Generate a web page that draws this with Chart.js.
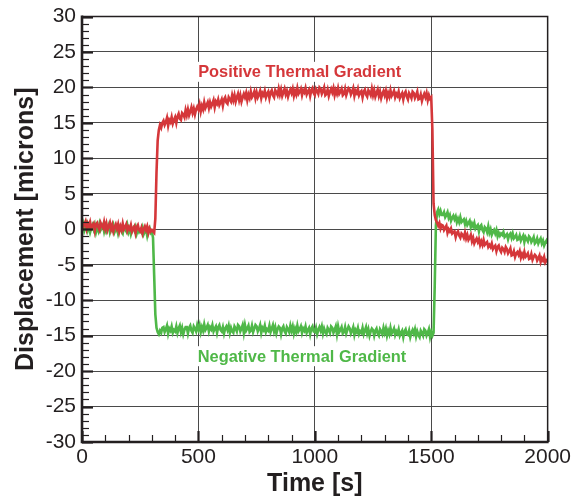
<!DOCTYPE html>
<html>
<head>
<meta charset="utf-8">
<script src="https://cdn.jsdelivr.net/npm/chart.js@4.4.1/dist/chart.umd.min.js"></script>
<style>
  html, body { margin: 0; padding: 0; background: #fff; }
  #wrap { width: 574px; height: 499px; }
</style>
</head>
<body>
<div id="wrap"><canvas id="dispChart" width="574" height="499"></canvas></div>
<script>
// sample grid in seconds (one reading every 5 s, 0 .. 2000)
var sampleStep = 5;
var sampleTimes = [];
for (var i = 0; i <= 400; i++) sampleTimes.push(i * sampleStep);

var seriesNames = ['Positive Thermal Gradient', 'Negative Thermal Gradient'];

// displacement [microns], 10 readings (50 s) per row
var positiveGradient = [
    1.0, 0.3, 0.7, 1.1, 0.1, 0.8, 0.4, 1.0, 0.2, 0.5,
    0.8, -0.2, 0.7, 0.9, 0.3, -0.1, 0.9, 0.5, 0.2, 1.0,
    0.1, 0.8, -0.1, 0.4, 0.9, 0.0, 0.6, -0.3, 0.3, 0.7,
    0.1, 0.7, -0.3, 0.4, -0.1, 0.8, 0.0, 0.3, 0.7, -0.2,
    0.3, 0.0, 0.6, -0.3, 0.1, 0.4, -0.5, 0.3, 0.6, -0.1,
    -0.3, 0.2, -0.6, 0.0, 0.4, -0.1, 0.4, -0.5, 0.1, -0.3,
    -0.1, -0.3, -0.5, 1.5, 8.0, 12.5, 14.0, 14.7, 14.3, 15.0,
    15.3, 14.7, 15.1, 15.7, 14.6, 15.4, 15.1, 15.8, 14.9, 15.4,
    15.8, 15.0, 15.9, 16.3, 15.6, 15.4, 16.4, 16.2, 15.8, 16.8,
    16.1, 16.9, 16.1, 16.6, 17.2, 16.4, 17.0, 16.2, 16.9, 17.3,
    16.9, 17.6, 16.6, 17.4, 16.9, 17.9, 17.1, 17.5, 17.9, 17.1,
    17.9, 17.3, 17.7, 18.2, 17.2, 18.0, 17.7, 18.3, 17.5, 17.9,
    18.3, 17.4, 18.3, 18.6, 17.9, 17.7, 18.6, 18.3, 18.0, 18.9,
    18.2, 18.9, 18.0, 18.6, 19.1, 18.2, 18.9, 18.0, 18.6, 19.1,
    18.6, 19.2, 18.2, 19.0, 18.5, 19.4, 18.6, 18.9, 19.4, 18.5,
    19.3, 18.6, 19.0, 19.5, 18.5, 19.2, 18.9, 19.5, 18.6, 19.1,
    19.4, 18.5, 19.3, 19.6, 18.9, 18.6, 19.6, 19.3, 18.9, 19.8,
    19.0, 19.7, 18.8, 19.3, 19.8, 19.0, 19.5, 18.7, 19.3, 19.7,
    19.2, 19.8, 18.8, 19.5, 19.0, 19.9, 19.1, 19.4, 19.8, 18.9,
    19.6, 19.3, 19.9, 19.0, 19.4, 19.7, 18.8, 19.6, 19.9, 19.2,
    18.9, 19.8, 19.5, 19.1, 20.0, 19.8, 19.1, 19.5, 20.0, 18.9,
    19.1, 19.7, 18.8, 19.4, 19.8, 19.3, 19.9, 18.9, 19.6, 19.1,
    19.9, 19.1, 19.4, 19.8, 18.9, 19.1, 19.8, 18.9, 19.4, 19.9,
    19.7, 19.0, 19.4, 19.9, 18.8, 19.5, 19.2, 19.8, 18.9, 19.3,
    19.5, 18.6, 19.4, 19.7, 19.0, 18.7, 19.6, 19.3, 18.9, 19.8,
    18.9, 19.6, 18.7, 19.2, 19.7, 18.8, 19.4, 18.5, 19.1, 19.5,
    18.9, 19.5, 18.5, 19.2, 18.7, 19.6, 18.8, 19.1, 19.5, 18.6,
    19.1, 18.8, 19.4, 18.5, 18.9, 19.2, 18.3, 19.1, 19.4, 18.7,
    18.3, 19.2, 18.9, 18.5, 19.4, 19.2, 18.5, 18.9, 19.4, 18.3,
    18.4, 19.0, 18.1, 18.7, 19.1, 18.6, 19.2, 18.2, 18.9, 18.4,
    18.6, 14.0, 3.6, 2.0, 1.3, 0.9, 0.5, 0.9, 0.1, 0.6,
    0.5, -0.1, 0.2, 0.5, -0.5, 0.0, -0.3, 0.1, -0.6, -0.4,
    -0.3, -1.1, -0.5, -0.3, -0.9, -1.2, -0.6, -0.8, -1.2, -0.5,
    -1.3, -0.8, -1.5, -1.2, -0.8, -1.7, -1.2, -2.0, -1.6, -1.3,
    -1.8, -1.4, -2.2, -1.7, -2.2, -1.5, -2.2, -2.0, -1.8, -2.5,
    -2.2, -2.5, -2.0, -2.8, -2.5, -2.3, -3.1, -2.5, -2.3, -2.9,
    -3.2, -2.6, -2.8, -3.2, -2.5, -2.8, -3.4, -3.1, -2.7, -3.7,
    -3.6, -3.1, -3.9, -3.4, -3.2, -3.6, -3.1, -4.0, -3.5, -3.9,
    -3.2, -3.9, -3.7, -3.4, -4.2, -4.1, -3.5, -4.3, -3.9, -3.6,
    -3.8, -4.4, -4.1, -3.7, -4.6, -4.1, -4.4, -3.9, -4.7, -4.4,
    -4.2
];

var negativeGradient = [
    0.0, 0.7, -0.2, 0.3, 0.8, -0.1, 0.5, -0.4, 0.2, 0.6,
    0.0, 0.6, -0.4, 0.3, -0.2, 0.7, -0.1, 0.2, 0.6, -0.3,
    0.4, -0.3, 0.1, 0.6, -0.4, 0.2, -0.1, 0.5, -0.4, 0.0,
    0.2, -0.6, 0.1, 0.4, -0.3, -0.6, 0.3, 0.0, -0.3, 0.5,
    -0.4, 0.1, -0.7, -0.1, 0.2, -0.2, 0.3, -0.6, 0.0, -0.4,
    -0.1, -0.4, 0.2, -0.7, -0.3, 0.0, -0.9, -0.1, 0.2, -0.5,
    -0.3, -1.2, -6.5, -12.0, -13.9, -14.5, -14.8, -14.3, -14.6, -13.9,
    -13.8, -14.5, -14.1, -13.6, -14.7, -14.0, -14.3, -13.7, -14.6, -14.2,
    -14.4, -13.7, -14.6, -14.0, -13.6, -14.5, -13.9, -14.8, -14.2, -13.8,
    -13.8, -14.7, -13.9, -13.6, -14.3, -14.6, -13.7, -14.0, -14.4, -13.5,
    -14.1, -13.5, -14.5, -13.8, -14.3, -13.4, -14.2, -13.9, -13.5, -14.4,
    -13.8, -14.1, -13.5, -14.4, -14.0, -13.7, -14.6, -13.8, -13.5, -14.2,
    -14.4, -13.8, -14.7, -14.0, -13.7, -14.2, -13.6, -14.6, -13.9, -14.4,
    -14.6, -13.7, -14.0, -14.4, -13.5, -13.7, -14.4, -14.0, -13.5, -14.6,
    -13.5, -14.3, -14.0, -13.6, -14.5, -14.3, -13.6, -14.5, -14.0, -13.5,
    -13.7, -14.4, -14.0, -13.5, -14.6, -13.9, -14.2, -13.6, -14.5, -14.1,
    -14.3, -13.6, -14.5, -14.0, -13.5, -14.4, -13.8, -14.7, -14.1, -13.7,
    -13.9, -14.8, -14.0, -13.7, -14.4, -14.7, -13.8, -14.1, -14.5, -13.6,
    -14.3, -13.7, -14.7, -14.0, -14.5, -13.6, -14.4, -14.1, -13.7, -14.6,
    -14.0, -14.3, -13.7, -14.6, -14.2, -13.9, -14.8, -14.0, -13.7, -14.4,
    -14.5, -13.9, -14.8, -14.2, -13.8, -14.3, -13.7, -14.7, -14.0, -14.5,
    -14.8, -13.9, -14.2, -14.6, -13.7, -13.9, -14.6, -14.2, -13.7, -14.8,
    -13.7, -14.5, -14.2, -13.8, -14.7, -14.5, -13.8, -14.7, -14.2, -13.7,
    -14.0, -14.7, -14.3, -13.8, -14.9, -14.2, -14.5, -13.9, -14.8, -14.4,
    -14.6, -13.9, -14.8, -14.3, -13.8, -14.7, -14.1, -15.0, -14.4, -14.0,
    -14.2, -15.0, -14.3, -14.0, -14.7, -15.0, -14.1, -14.4, -14.8, -13.9,
    -14.6, -14.0, -15.0, -14.3, -14.8, -13.9, -14.7, -14.4, -14.0, -14.9,
    -14.4, -14.7, -14.1, -15.0, -14.6, -14.3, -15.2, -14.4, -14.1, -14.8,
    -14.9, -14.3, -15.2, -14.6, -14.2, -14.7, -14.1, -15.1, -14.4, -14.9,
    -15.2, -14.3, -14.6, -15.0, -14.1, -14.3, -15.0, -14.6, -14.1, -15.2,
    -14.5, -15.0, -14.6, -8.0, 0.5, 2.4, 2.8, 2.1, 2.6, 2.0,
    2.0, 2.4, 1.7, 2.0, 2.4, 1.6, 2.0, 1.2, 1.6, 1.9,
    1.4, 1.8, 1.0, 1.5, 1.0, 1.7, 1.0, 1.2, 1.4, 0.7,
    1.2, 0.6, 0.9, 1.2, 0.3, 0.8, 0.4, 0.9, 0.1, 0.4,
    0.6, -0.3, 0.4, 0.6, -0.1, -0.4, 0.3, 0.1, -0.4, 0.4,
    -0.5, 0.0, -0.8, -0.4, -0.1, -0.6, -0.1, -1.0, -0.5, -0.9,
    -0.6, -0.8, -0.4, -1.1, -0.9, -0.7, -1.4, -0.8, -0.6, -1.2,
    -0.6, -1.3, -1.1, -0.8, -1.5, -1.4, -0.9, -1.6, -1.2, -0.9,
    -1.8, -1.1, -1.4, -1.7, -1.0, -1.2, -1.8, -1.5, -1.1, -2.0,
    -1.8, -1.3, -2.0, -1.6, -1.3, -2.0, -1.6, -2.3, -1.9, -1.6,
    -2.0
];

var xTicks = { min: 0, max: 2000, major: 500, minor: 100 };
var yTicks = { min: -30, max: 30, major: 5, minor: 1 };

var redColor = '#d5373a';
var greenColor = '#4fb848';
var inkColor = '#231f20';
var fontFamily = '"Liberation Sans", Arial, sans-serif';

function toPoints(values) {
    return values.map(function (v, i) { return { x: sampleTimes[i], y: v }; });
}

// inward tick marks, frame and the two curve labels
var framePlugin = {
    id: 'framePlugin',
    afterDatasetsDraw: function (chart) {
        var ctx = chart.ctx;
        var a = chart.chartArea;
        var xs = chart.scales.x;
        var ys = chart.scales.y;
        ctx.save();
        ctx.strokeStyle = inkColor;

        // top / right frame
        ctx.lineWidth = 1.5;
        ctx.beginPath();
        ctx.moveTo(a.left, a.top);
        ctx.lineTo(a.right, a.top);
        ctx.lineTo(a.right, a.bottom);
        ctx.stroke();

        var v, p, major;
        for (v = yTicks.min; v <= yTicks.max; v += yTicks.minor) {
            p = Math.round(ys.getPixelForValue(v)) + 0.5;
            major = v % yTicks.major === 0;
            ctx.lineWidth = major ? 2.2 : 1.2;
            ctx.beginPath();
            ctx.moveTo(a.left, p);
            ctx.lineTo(a.left + (major ? 11 : 7), p);
            ctx.stroke();
        }
        for (v = xTicks.min; v <= xTicks.max; v += xTicks.minor) {
            p = Math.round(xs.getPixelForValue(v)) + 0.5;
            major = v % xTicks.major === 0;
            ctx.lineWidth = major ? 2.2 : 1.2;
            ctx.beginPath();
            ctx.moveTo(p, a.bottom);
            ctx.lineTo(p, a.bottom - (major ? 11 : 7));
            ctx.stroke();
        }

        // axis lines
        ctx.lineWidth = 2.6;
        ctx.beginPath();
        ctx.moveTo(a.left, a.top - 1);
        ctx.lineTo(a.left, a.bottom);
        ctx.lineTo(a.right + 1, a.bottom);
        ctx.stroke();

        // curve labels
        ctx.font = 'bold 16.4px ' + fontFamily;
        ctx.textAlign = 'center';
        ctx.textBaseline = 'middle';
        var labels = [
            { text: seriesNames[0], color: redColor, x: 935, y: 22.2 },
            { text: seriesNames[1], color: greenColor, x: 945, y: -17.9 }
        ];
        labels.forEach(function (l) {
            var px = xs.getPixelForValue(l.x);
            var py = ys.getPixelForValue(l.y);
            var w = ctx.measureText(l.text).width;
            ctx.fillStyle = '#ffffff';
            ctx.fillRect(px - w / 2 - 3, py - 10, w + 6, 20);
            ctx.fillStyle = l.color;
            ctx.fillText(l.text, px, py + 1);
        });
        ctx.restore();
    }
};

var ctx1 = document.getElementById('dispChart').getContext('2d');
var dispChart = new Chart(ctx1, {
    type: 'line',
    data: {
        datasets: [
            {
                label: seriesNames[0],
                data: toPoints(positiveGradient),
                borderColor: redColor,
                borderWidth: 2.6,
                pointRadius: 0,
                tension: 0
            },
            {
                label: seriesNames[1],
                data: toPoints(negativeGradient),
                borderColor: greenColor,
                borderWidth: 2.6,
                pointRadius: 0,
                tension: 0
            }
        ]
    },
    options: {
        responsive: false,
        animation: false,
        layout: { padding: { top: 16, right: 25, left: 0, bottom: 0 } },
        plugins: {
            legend: { display: false },
            tooltip: { enabled: false }
        },
        scales: {
            x: {
                type: 'linear',
                min: xTicks.min,
                max: xTicks.max,
                afterFit: function (scale) { scale.height = 57; },
                ticks: {
                    stepSize: xTicks.major,
                    color: inkColor,
                    padding: 3,
                    maxRotation: 0,
                    callback: function (value) { return String(value); },
                    font: { family: fontFamily, size: 21 }
                },
                grid: { color: '#4a4a4a', lineWidth: 1, drawTicks: false },
                border: { display: false },
                title: {
                    display: true,
                    text: 'Time [s]',
                    color: inkColor,
                    padding: { top: 2, bottom: 0 },
                    font: { family: fontFamily, size: 25, weight: 'bold' }
                }
            },
            y: {
                min: yTicks.min,
                max: yTicks.max,
                afterFit: function (scale) { scale.width = 82; },
                ticks: {
                    stepSize: yTicks.major,
                    color: inkColor,
                    padding: 6,
                    font: { family: fontFamily, size: 21, lineHeight: 1 }
                },
                grid: { color: '#4a4a4a', lineWidth: 1, drawTicks: false },
                border: { display: false },
                title: {
                    display: true,
                    text: 'Displacement [microns]',
                    color: inkColor,
                    padding: { top: 11, bottom: 0 },
                    font: { family: fontFamily, size: 25, weight: 'bold' }
                }
            }
        }
    },
    plugins: [framePlugin]
});
</script>
</body>
</html>
